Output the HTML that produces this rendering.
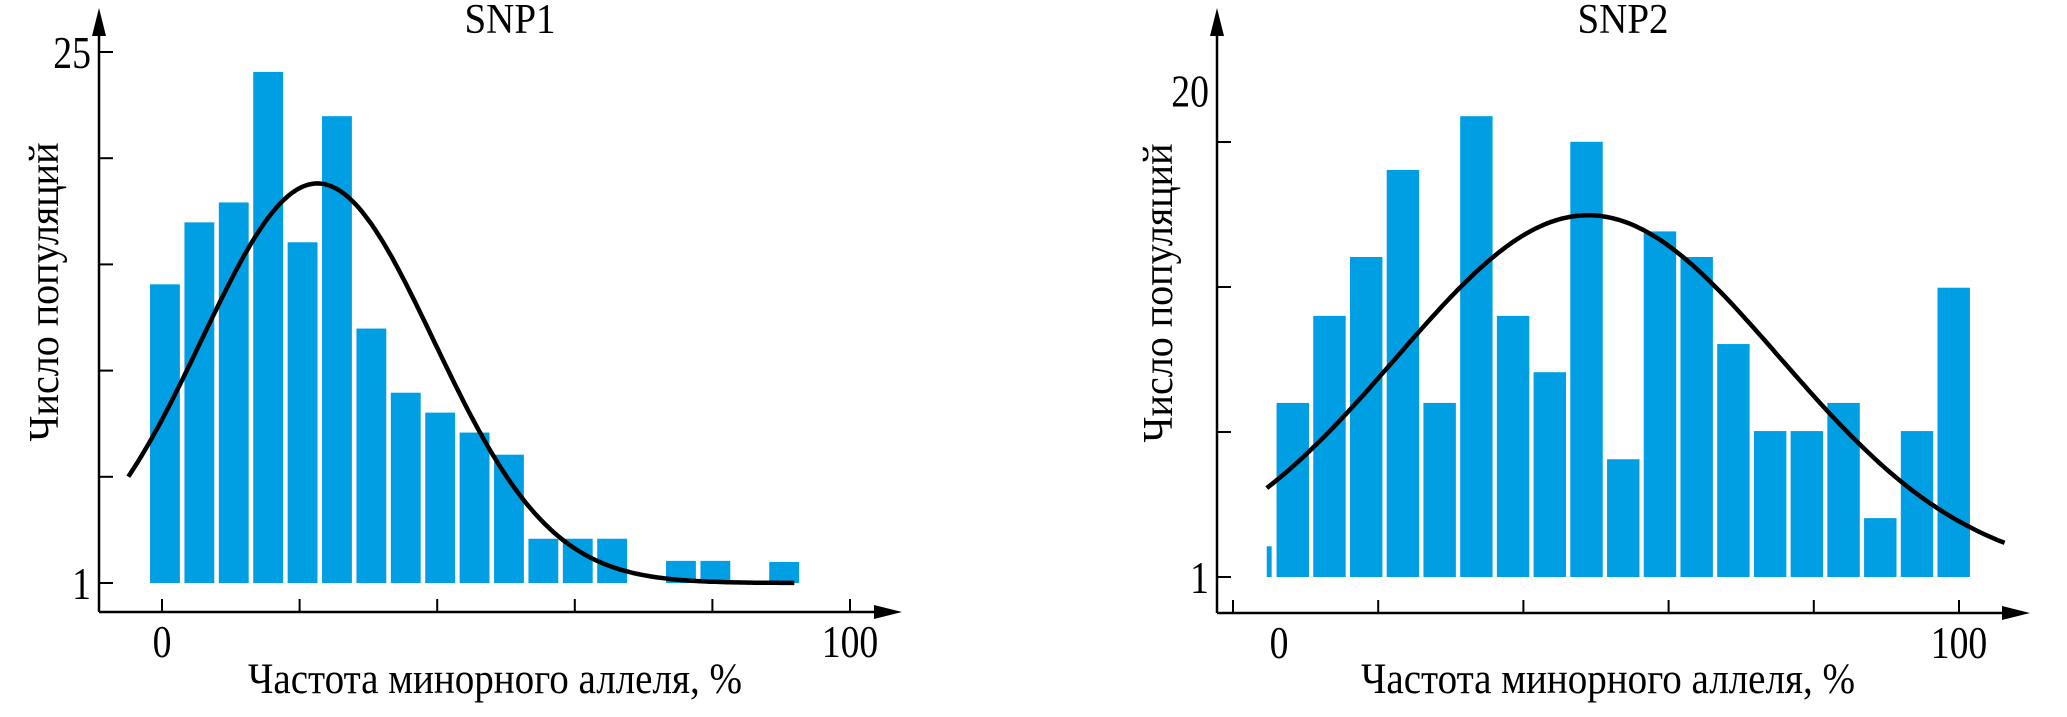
<!DOCTYPE html>
<html><head><meta charset="utf-8"><style>
html,body{margin:0;padding:0;background:#fff}
svg{display:block}
text{font-family:"Liberation Serif",serif;fill:#000}
</style></head><body>
<svg id="chart" width="2067" height="717" viewBox="0 0 2067 717" xmlns="http://www.w3.org/2000/svg"></svg>
<script>
// SNP1 data
const snp1Bins = [0,1,2,3,4,5,6,7,8,9,10,11,12,13,15,16,18];
const snp1Counts = [14.5,17.3,18.2,24.1,16.4,22.1,12.5,9.6,8.7,7.8,6.8,3.0,3.0,3.0,2.0,2.0,1.95];
const snp1Fit = [22.6,16.9,18.06,1]; // mean, sigma, amplitude, baseline
const snp1FitRange = [-4.9,91.9];
const snp1YLabels = ["1","25"];
const snp1YLabelVals = [1,25];
// SNP2 data
const snp2Counts = [7.8,11.2,13.5,16.9,7.8,19.0,11.2,9.0,18.0,5.6,14.5,13.5,10.1,6.7,6.7,7.8,3.3,6.7,12.3];
const snp2Small = [2.2];
const snp2Fit = [45.45,28.2,14.13,1];
const snp2FitRange = [-1.8,106.7];
const snp2YLabels = ["1","20"];
const snp2YLabelVals = [1,20];
const xTickLabels = ["0","100"];
const xTickVals = [0,100];

const NS="http://www.w3.org/2000/svg";
const svg=document.getElementById('chart');
function mk(tag,attrs,parent){const e=document.createElementNS(NS,tag);for(const k in attrs)e.setAttribute(k,attrs[k]);(parent||svg).appendChild(e);return e;}

function drawPanel(o){
  const g=mk('g',{});
  
  
  const X=v=>o.x0+v*o.pxPct, Y=v=>o.y1-(v-1)*o.pxCnt;
  o.bars.forEach((b)=>{
    const r=mk('rect',{x:X(b.l),y:Y(b.v),width:X(b.r)-X(b.l),height:Y(1)-Y(b.v),fill:'#009fe3'},g);
    
    
  });
  const f=o.fit;let d='';
  for(let i=0;i<=200;i++){const x=o.range[0]+(o.range[1]-o.range[0])*i/200;const y=f[3]+f[2]*Math.exp(-(x-f[0])*(x-f[0])/(2*f[1]*f[1]));d+=(i?'L':'M')+X(x).toFixed(1)+' '+Y(y).toFixed(1);}
  const c=mk('path',{d:d,fill:'none',stroke:'#000','stroke-width':4.5},g);
  
  
  const ya=mk('line',{x1:o.ax,y1:o.axY,x2:o.ax,y2:22,stroke:'#000','stroke-width':2.5},g);
  
  
  mk('path',{d:`M${o.ax-7} 36 L${o.ax} 8 L${o.ax+7} 36 Z`,fill:'#000'},g);
  const xa=mk('line',{x1:o.ax,y1:o.axY,x2:o.axEnd-12,y2:o.axY,stroke:'#000','stroke-width':2.5},g);
  
  
  mk('path',{d:`M${o.axEnd-28} ${o.axY-7} L${o.axEnd} ${o.axY} L${o.axEnd-28} ${o.axY+7} Z`,fill:'#000'},g);
  o.yTicks.forEach(t=>mk('line',{x1:o.ax,x2:o.ax+14,y1:t,y2:t,stroke:'#000','stroke-width':2},g));
  o.xTicks.forEach(t=>mk('line',{x1:t,x2:t,y1:o.axY,y2:o.axY-13,stroke:'#000','stroke-width':2},g));
  o.yLabels.forEach((s,i)=>{const t=mk('text',{x:0,y:0,'text-anchor':'end','font-size':46,transform:`translate(${o.ax-8},${o.yLabelPos[i]+16}) scale(0.82,1)`},g);t.textContent=s;
    });
  xTickLabels.forEach((s,i)=>{const t=mk('text',{x:0,y:0,'text-anchor':'middle','font-size':46,transform:`translate(${o.xLabelPos[i]},${o.axY+45}) scale(0.82,1)`},g);t.textContent=s;
    });
  const ti=mk('text',{x:o.titleX,y:33,'text-anchor':'middle','font-size':42,textLength:o.titleW,lengthAdjust:'spacingAndGlyphs'},g);ti.textContent=o.title;
  
  const xl=mk('text',{x:o.xlX,y:693,'text-anchor':'middle','font-size':43,textLength:494,lengthAdjust:'spacingAndGlyphs'},g);xl.textContent='Частота минорного аллеля, %';
  
  const yl=mk('text',{x:0,y:0,'text-anchor':'middle','font-size':42,textLength:299,lengthAdjust:'spacingAndGlyphs',transform:`translate(${o.ylX},${o.ylY}) rotate(-90)`},g);yl.textContent='Число популяций';
  
}

const p1px=6.88, p1cnt=531/24;
drawPanel({name:'snp1-chart',title:'SNP1',titleX:510,titleW:91,x0:162,pxPct:p1px,y1:583,pxCnt:p1cnt,
  bars:snp1Bins.map((b,i)=>({l:5*b-1.74,r:5*b+2.6,v:snp1Counts[i]})),
  fit:snp1Fit,range:snp1FitRange,ax:99,axY:612,axEnd:902,
  yTicks:[0,1,2,3,4,5].map(k=>583-k*531/5),xTicks:[0,20,40,60,80,100].map(v=>162+v*p1px),
  yLabels:snp1YLabels,yLabelPos:snp1YLabelVals.map(v=>583-(v-1)*p1cnt),
  xLabelPos:xTickVals.map(v=>162+v*p1px),xlX:495,ylX:58,ylY:292});
const p2px=6.8, p2cnt=25.6;
drawPanel({name:'snp2-chart',title:'SNP2',titleX:1623,titleW:91,x0:1279,pxPct:p2px,y1:577,pxCnt:p2cnt,
  bars:[{l:-1.8,r:-1.08,v:snp2Small[0]}].concat(snp2Counts.map((v,i)=>({l:-0.36+5.4*i,r:-0.36+5.4*i+4.77,v:v}))),
  fit:snp2Fit,range:snp2FitRange,ax:1217,axY:613,axEnd:2030,
  yTicks:[0,1,2,3].map(k=>577-k*145),xTicks:[0,1,2,3,4,5].map(k=>1233+k*145.2),
  yLabels:snp2YLabels,yLabelPos:snp2YLabelVals.map(v=>577-(v-1)*p2cnt),
  xLabelPos:xTickVals.map(v=>1279+v*p2px),xlX:1608,ylX:1172,ylY:293});
</script>
</body></html>
